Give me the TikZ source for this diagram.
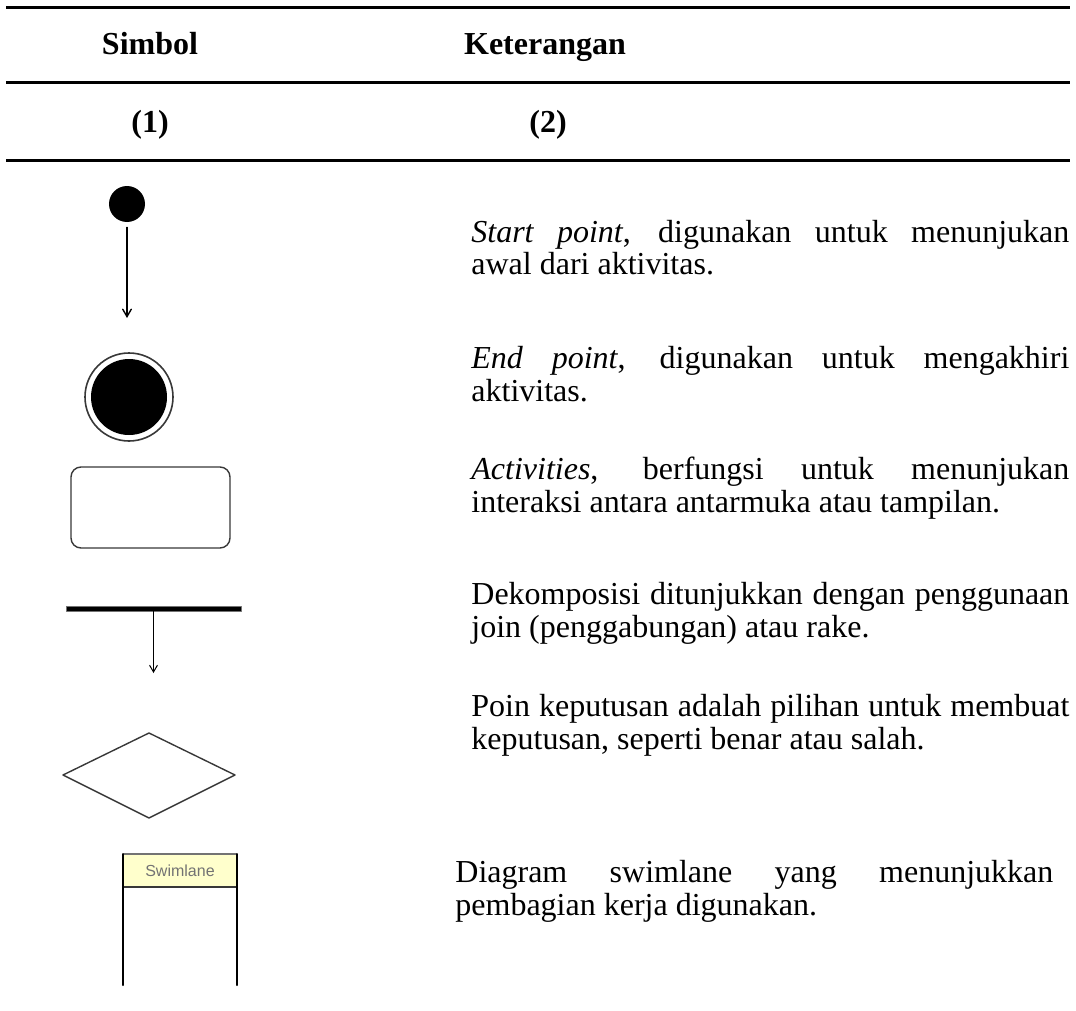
\documentclass[tikz,border=0pt]{standalone}
\usepackage{fontspec}
\setmainfont{Liberation Serif}
\newfontfamily\lanefont{Liberation Sans}
\usetikzlibrary{arrows}
\definecolor{ffffcc}{rgb}{1.0,1.0,0.8}
\definecolor{qqqqqq}{rgb}{0.22,0.22,0.22}
\definecolor{ssssss}{rgb}{0.45,0.45,0.45}
\tikzset{
  rule/.style={line width=1.5pt,line cap=butt},
  head/.style={inner sep=0pt,anchor=base,font=\fontsize{16}{16.5}\selectfont\bfseries},
  ket/.style={anchor=base west,inner sep=0pt,text width=299pt,align=justify,
    font=\fontsize{16}{16.5}\selectfont}
}

\begin{document}
\begin{tikzpicture}[line cap=round,line join=round,>=angle 60,x=0.5pt,y=-0.5pt]
\useasboundingbox (0,0) rectangle (1076,1011);
% table rules and heads
\draw [rule] (6,8)-- (1070,8);
\draw [rule] (6,83)-- (1070,83);
\draw [rule] (6,160)-- (1070,160);
\node[head] (simbol) at (150,55) {Simbol};
\node[head] (keterangan) at (545,55) {Keterangan};
\node[head] (kol1) at (150,133) {(1)};
\node[head] (kol2) at (548,133) {(2)};
% start point
\node[circle,fill=black,inner sep=0pt,minimum size=18pt] (start) at (127,204) {};
\coordinate (startend) at (127,318);
\draw [->,line width=0.7pt,shorten <=2.5pt] (start) -- (startend);
% end point
\node[circle,draw=qqqqqq,line width=0.8pt,inner sep=0pt,minimum size=44pt] (endpt) at (129,397) {};
\node[circle,fill=black,inner sep=0pt,minimum size=38pt] (endin) at (endpt.center) {};
% activity
\node[draw=qqqqqq,rounded corners=5pt,line width=0.7pt,inner sep=0pt,minimum width=79.5pt,minimum height=40.5pt] (act) at (150.5,507.5) {};
% fork
\node[fill=black,draw=ssssss,line width=0.4pt,inner sep=0pt,minimum width=87.5pt,minimum height=2.5pt] (fork) at (153.5,608.5) {};
\coordinate (forkend) at (153.5,673);
\draw [->,line width=0.5pt] (fork) -- (forkend);
% decision
\draw [qqqqqq,line width=0.7pt] (63,775)-- (149,733)-- (235,775)-- (149,818)-- cycle;
% swimlane
\fill [ffffcc] (123,854) rectangle (237,887);
\draw [ssssss,line width=0.6pt] (123,854)-- (237,854);
\draw [qqqqqq,line width=0.6pt] (123,887)-- (237,887);
\draw [line width=1pt] (123,854)-- (123,985);
\draw [line width=1pt] (237,854)-- (237,985);
\node[font=\lanefont\fontsize{8}{9}\selectfont,text=ssssss] (lane) at (180,871) {Swimlane};
% keterangan
\node[ket] (ket1) at (471,242) {\textit{Start point}, digunakan untuk menunjukan\linebreak awal dari aktivitas.};
\node[ket] (ket2) at (471,368) {\textit{End point}, digunakan untuk mengakhiri\linebreak aktivitas.};
\node[ket] (ket3) at (471,479) {\textit{Activities}, berfungsi untuk menunjukan\linebreak interaksi antara antarmuka atau tampilan.};
\node[ket] (ket4) at (471,604) {Dekomposisi ditunjukkan dengan penggunaan\linebreak join (penggabungan) atau rake.};
\node[ket] (ket5) at (471,716) {Poin keputusan adalah pilihan untuk membuat\linebreak keputusan, seperti benar atau salah.};
\node[ket] (ket6) at (455,882) {Diagram swimlane yang menunjukkan\linebreak pembagian kerja digunakan.};
\end{tikzpicture}
\end{document}
